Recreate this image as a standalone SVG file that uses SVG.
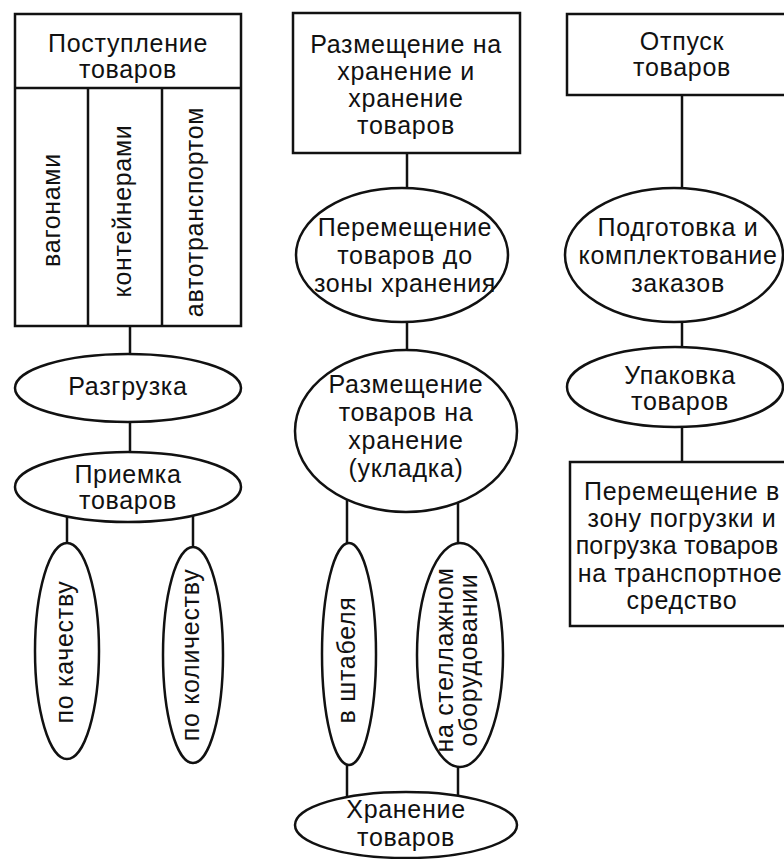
<svg xmlns="http://www.w3.org/2000/svg" width="784" height="859" viewBox="0 0 784 859">
<style>
  .s { fill: #fff; stroke: #111; stroke-width: 2.5; }
  .c { stroke: #111; stroke-width: 2.5; fill: none; }
  text { font-family: "Liberation Sans", Arial, sans-serif; font-size: 25px; letter-spacing: 0.7px; fill: #111; text-anchor: middle; }
</style>
<rect width="784" height="859" fill="#fff"/>
<g id="connectors">
  <line class="c" x1="130" y1="326" x2="130" y2="354"/>
  <line class="c" x1="130" y1="422" x2="130" y2="452"/>
  <line class="c" x1="67" y1="516" x2="67" y2="543"/>
  <line class="c" x1="193" y1="516" x2="193" y2="547"/>
  <line class="c" x1="407" y1="153" x2="407" y2="188"/>
  <line class="c" x1="407" y1="322" x2="407" y2="350"/>
  <line class="c" x1="347" y1="500" x2="347" y2="543"/>
  <line class="c" x1="458" y1="502" x2="458" y2="543"/>
  <line class="c" x1="347" y1="765" x2="347" y2="797"/>
  <line class="c" x1="458" y1="767" x2="458" y2="796"/>
  <line class="c" x1="682" y1="95" x2="682" y2="188"/>
  <line class="c" x1="682" y1="322" x2="682" y2="348"/>
  <line class="c" x1="682" y1="427" x2="682" y2="462"/>
</g>
<g id="postuplenie">
  <rect class="s" x="15" y="14" width="226" height="312"/>
  <line class="c" x1="15" y1="88" x2="241" y2="88"/>
  <line class="c" x1="88" y1="88" x2="88" y2="326"/>
  <line class="c" x1="162" y1="88" x2="162" y2="326"/>
  <text x="128" y="52">Поступление</text>
  <text x="128" y="78">товаров</text>
</g>
<g id="vagonami"><text transform="translate(54,210) rotate(-90)" y="6">вагонами</text></g>
<g id="konteinerami"><text transform="translate(125,211) rotate(-90)" y="6">контейнерами</text></g>
<g id="avtotransportom"><text transform="translate(197,212) rotate(-90)" y="6">автотранспортом</text></g>
<g id="razgruzka">
  <ellipse class="s" cx="128" cy="388" rx="113" ry="34"/>
  <text x="128" y="395">Разгрузка</text>
</g>
<g id="priemka">
  <ellipse class="s" cx="128" cy="487" rx="113" ry="35"/>
  <text x="128" y="483">Приемка</text>
  <text x="128" y="509">товаров</text>
</g>
<g id="po-kachestvu">
  <ellipse class="s" cx="67" cy="651" rx="32" ry="108"/>
  <text transform="translate(67,652) rotate(-90)" y="6">по качеству</text>
</g>
<g id="po-kolichestvu">
  <ellipse class="s" cx="193" cy="655" rx="30" ry="108"/>
  <text transform="translate(193,655) rotate(-90)" y="6">по количеству</text>
</g>
<g id="razmeshchenie-box">
  <rect class="s" x="293" y="13" width="227" height="140"/>
  <text x="406" y="53">Размещение на</text>
  <text x="406" y="80">хранение и</text>
  <text x="406" y="107">хранение</text>
  <text x="406" y="134">товаров</text>
</g>
<g id="peremeshchenie">
  <ellipse class="s" cx="402" cy="255" rx="106" ry="67"/>
  <text x="405" y="236">Перемещение</text>
  <text x="405" y="264">товаров до</text>
  <text x="405" y="292">зоны хранения</text>
</g>
<g id="razmeshchenie-ukladka">
  <ellipse class="s" cx="406" cy="431" rx="111" ry="81"/>
  <text x="406" y="393">Размещение</text>
  <text x="406" y="421">товаров на</text>
  <text x="406" y="449">хранение</text>
  <text x="406" y="477">(укладка)</text>
</g>
<g id="v-shtabelya">
  <ellipse class="s" cx="349" cy="654" rx="27" ry="111"/>
  <text transform="translate(349,660) rotate(-90)" y="6">в штабеля</text>
</g>
<g id="na-stellazhnom">
  <ellipse class="s" cx="460" cy="655" rx="43" ry="112"/>
  <text transform="translate(460,660) rotate(-90)" y="-7">на стеллажном</text>
  <text transform="translate(460,660) rotate(-90)" y="17">оборудовании</text>
</g>
<g id="khranenie">
  <ellipse class="s" cx="406" cy="825" rx="111" ry="33"/>
  <text x="406" y="818">Хранение</text>
  <text x="406" y="846">товаров</text>
</g>
<g id="otpusk">
  <rect class="s" x="567" y="14" width="230" height="81"/>
  <text x="682" y="50">Отпуск</text>
  <text x="682" y="76">товаров</text>
</g>
<g id="podgotovka">
  <ellipse class="s" cx="674" cy="255" rx="109" ry="67"/>
  <text x="678" y="236">Подготовка и</text>
  <text x="678" y="264">комплектование</text>
  <text x="678" y="292">заказов</text>
</g>
<g id="upakovka">
  <ellipse class="s" cx="675" cy="387" rx="108" ry="40"/>
  <text x="680" y="384">Упаковка</text>
  <text x="680" y="410">товаров</text>
</g>
<g id="peremeshchenie-pogruzka">
  <rect class="s" x="570" y="462" width="230" height="164"/>
  <text x="682" y="500">Перемещение в</text>
  <text x="682" y="527">зону погрузки и</text>
  <text x="677" y="554" style="letter-spacing:0.2px">погрузка товаров</text>
  <text x="680" y="582">на транспортное</text>
  <text x="682" y="609">средство</text>
</g>
</svg>
